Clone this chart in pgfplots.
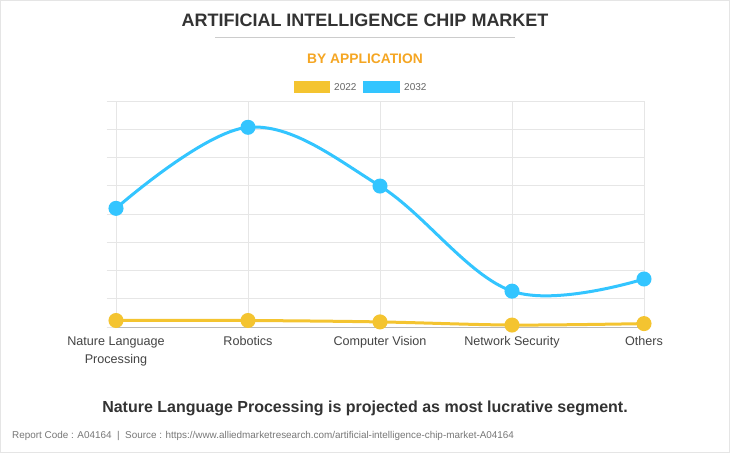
\documentclass[border=0pt]{standalone}
\usepackage{pgfplots}
\pgfplotsset{compat=1.18}
\usepackage{fontspec}
\setmainfont{Liberation Sans}
\definecolor{c22}{HTML}{F4C430}
\definecolor{c32}{HTML}{33C5FF}
\definecolor{gridc}{HTML}{E6E6E6}
\definecolor{orangeT}{HTML}{F5A623}
\definecolor{titleC}{HTML}{333333}
\definecolor{labC}{HTML}{444444}
\definecolor{footC}{HTML}{777777}
\begin{document}
\begin{tikzpicture}[x=1pt,y=1pt]
\fill[white] (0,0) rectangle (730,-453);
\draw[gray!20, line width=1pt] (0.5,-0.5) rectangle (729.5,-452.5);
\useasboundingbox (0,0) rectangle (730,-453);
\node[font=\bfseries\fontsize{18}{20}\selectfont, text=titleC] at (365,-20) {ARTIFICIAL INTELLIGENCE CHIP MARKET};
\draw[gray!40, line width=0.8pt] (215,-37) -- (515,-37);
\node[font=\bfseries\fontsize{13.8}{16}\selectfont, text=orangeT] at (365,-59) {BY APPLICATION};
\fill[c22] (294,-81) rectangle (330,-93);
\node[anchor=west, inner sep=0pt, font=\fontsize{10}{12}\selectfont, text=gray!80!black] at (334,-87) {2022};
\fill[c32] (363,-81) rectangle (400,-93);
\node[anchor=west, inner sep=0pt, font=\fontsize{10}{12}\selectfont, text=gray!80!black] at (404,-87) {2032};
\begin{axis}[
  at={(116pt,-327pt)}, anchor=south west,
  scale only axis, width=528pt, height=226pt,
  xmin=0, xmax=4, ymin=0, ymax=8,
  clip=false,
  axis line style={draw=gridc},
  grid=major, grid style={draw=gridc, line width=0.8pt},
  xtick={0,1,2,3,4},
  xticklabels={{Nature Language\\Processing},Robotics,Computer Vision,Network Security,Others},
  xticklabel style={font=\fontsize{12.6}{18.5}\selectfont, text=labC, align=center, yshift=3pt},
  ytick={0,1,...,8}, yticklabels={,,,,,,,,},
  ytick pos=left,
  tick align=outside, major tick length=9pt,
  xtick style={draw=none},
  ytick style={draw=gridc, line width=0.8pt},
  extra y ticks={0}, extra y tick labels={},
  extra y tick style={grid style={draw=gray!55, line width=0.8pt}, tick style={draw=gray!55}},
]
\addplot[c22, line width=3pt, smooth, tension=0.55, mark=*, mark size=6pt, mark options={draw=none, fill=c22}]
  coordinates {(0,0.23) (1,0.23) (2,0.18) (3,0.07) (4,0.12)};
\addplot[c32, line width=3pt, smooth, tension=0.6, mark=*, mark size=6pt, mark options={draw=none, fill=c32}]
  coordinates {(0,4.2) (1,7.07) (2,4.99) (3,1.27) (4,1.70)};
\end{axis}
\node[font=\bfseries\fontsize{16}{18}\selectfont, text=titleC] at (365,-408) {Nature Language Processing is projected as most lucrative segment.};
\node[anchor=west, inner sep=0pt, font=\fontsize{9.9}{11}\selectfont, text=footC] at (12,-436) {Report Code : A04164 \ | \ Source : https://www.alliedmarketresearch.com/artificial-intelligence-chip-market-A04164};
\end{tikzpicture}
\end{document}
